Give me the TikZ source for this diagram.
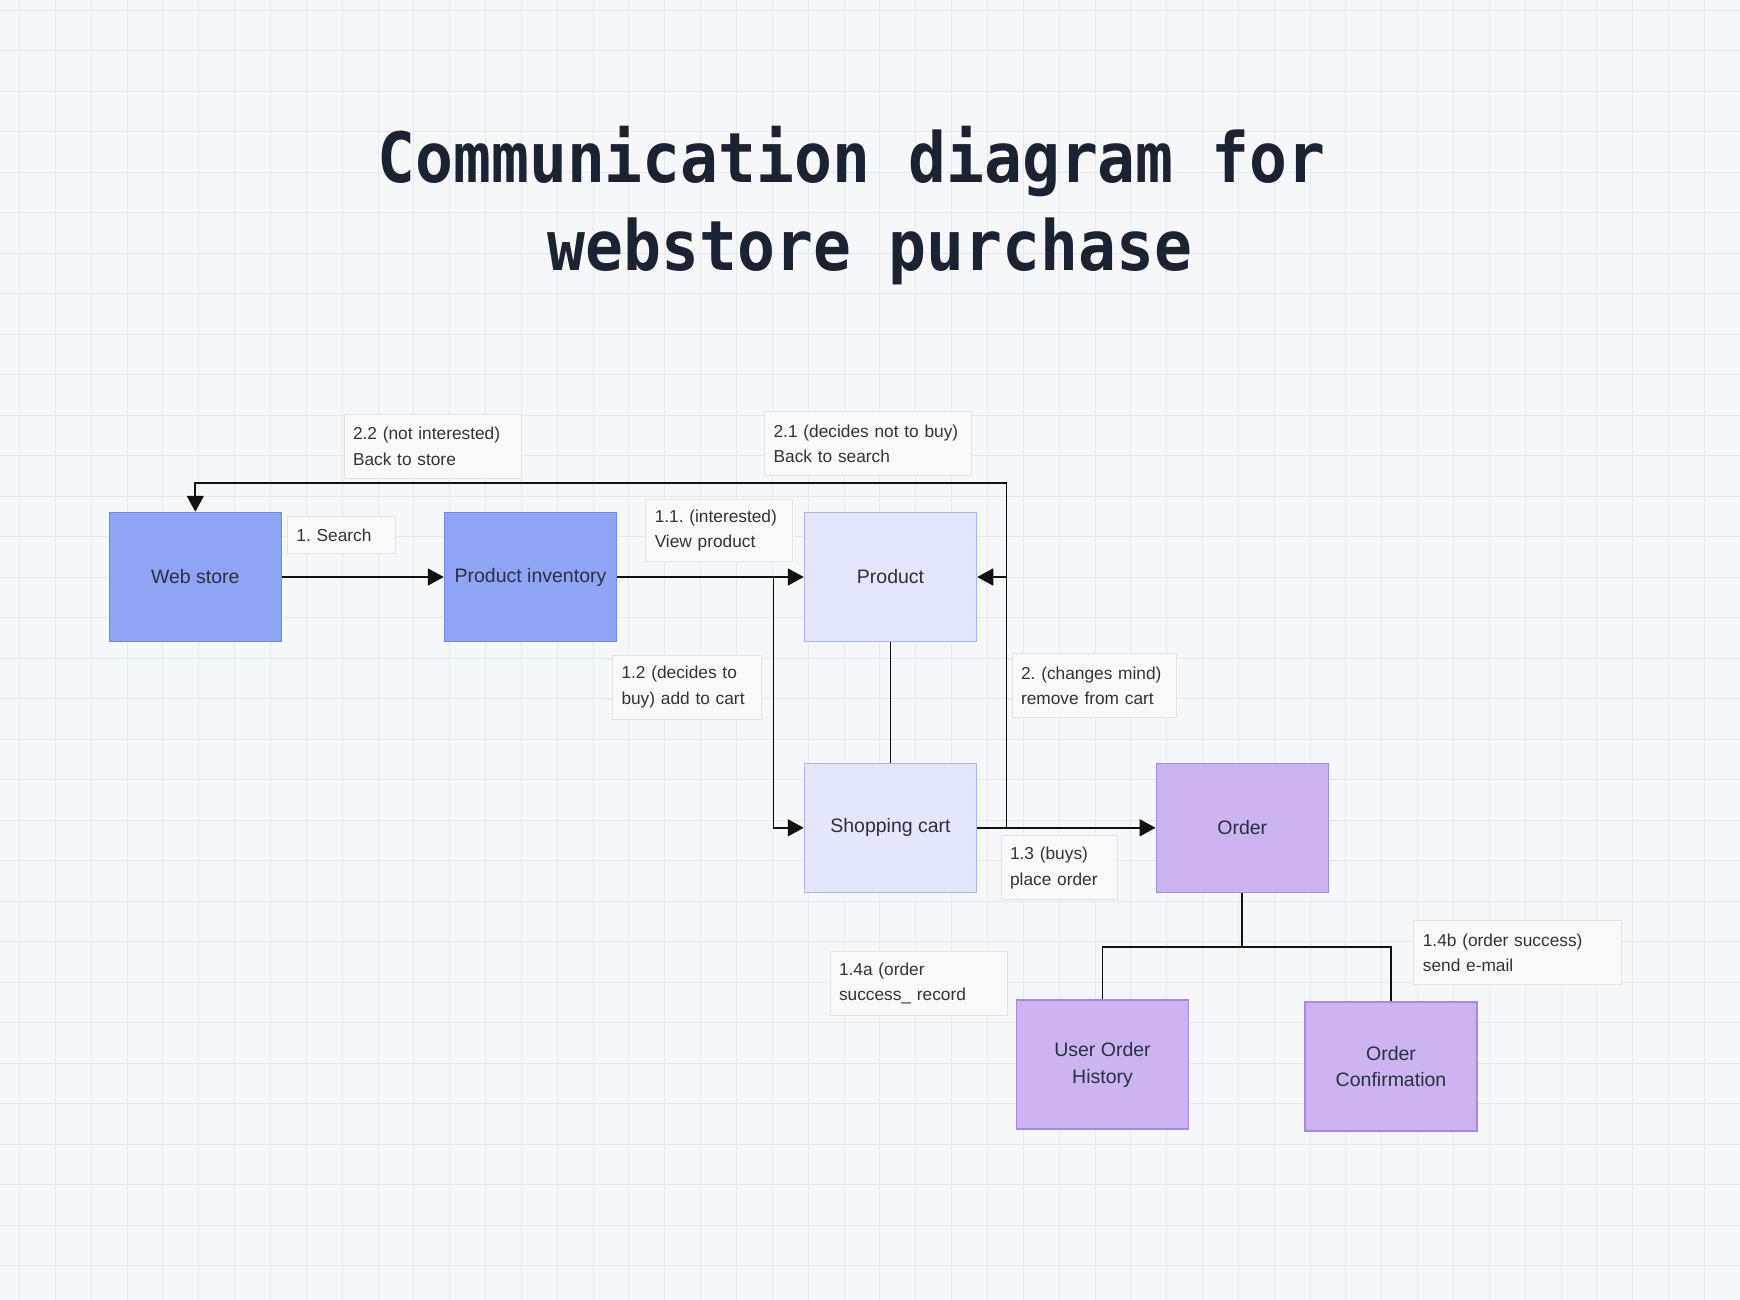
\documentclass[tikz,border=0pt]{standalone}
\usepackage{fontspec}
\setmainfont{Liberation Sans}
\newfontfamily\titlefont{DejaVu Sans Mono}
\usetikzlibrary{arrows.meta}
\frenchspacing
\definecolor{bg}{HTML}{F6F7F9}
\definecolor{gridc}{HTML}{E8E9ED}
\definecolor{titlec}{HTML}{1B2232}
\definecolor{nodetext}{HTML}{2B2F45}
\definecolor{labeltext}{HTML}{333333}
\definecolor{labelfill}{HTML}{F9F9FA}
\definecolor{labeldraw}{HTML}{E3E4E8}
\definecolor{bluefill}{HTML}{8FA4F4}
\definecolor{bluedraw}{HTML}{6F88E6}
\definecolor{lightfill}{HTML}{E4E6FB}
\definecolor{lightdraw}{HTML}{A9B5EE}
\definecolor{purplefill}{HTML}{CBB4EF}
\definecolor{purpledraw}{HTML}{A68AE0}
\definecolor{linec}{HTML}{111111}
\tikzset{
  objbox/.style={draw, line width=1.5pt, minimum width=172pt, minimum height=129pt,
    align=center, text=nodetext, font=\fontsize{19.5}{26.6}\selectfont, inner sep=0pt},
  blueobj/.style={objbox, fill=bluefill, draw=bluedraw},
  lightobj/.style={objbox, fill=lightfill, draw=lightdraw},
  purpleobj/.style={objbox, fill=purplefill, draw=purpledraw},
  msg/.style={draw=labeldraw, fill=labelfill, line width=0.8pt, align=left,
    text=labeltext, font=\fontsize{17.3}{25.5}\selectfont, inner xsep=9pt, inner ysep=0pt,
    minimum height=64pt},
  conn/.style={line width=1.8pt, draw=linec},
  arr/.style={conn, -{Triangle[length=16pt,width=17pt]}},
}
\begin{document}
\begin{tikzpicture}[x=1pt,y=-1pt]
\fill[bg] (0,0) rectangle (1740,1300);
\useasboundingbox (0,0) rectangle (1740,1300);
\foreach \i in {0,...,48} \draw[gridc, line width=1pt] ({round(19+35.85*\i)+0.5},0) -- ({round(19+35.85*\i)+0.5},1300);
\foreach \j in {0,...,31} \draw[gridc, line width=1pt] (0,{round(9.6+40.5*\j)+0.5}) -- (1740,{round(9.6+40.5*\j)+0.5});

% title
\node[anchor=base, text=titlec, font=\titlefont\bfseries\fontsize{63}{70}\selectfont, inner sep=0pt]
  (title1) at (851.5,183) {\scalebox{1}[1.1]{Communication diagram for}};
\node[anchor=base, text=titlec, font=\titlefont\bfseries\fontsize{63}{70}\selectfont, inner sep=0pt]
  (title2) at (870,270) {\scalebox{1}[1.1]{webstore purchase}};

% objects
\node[blueobj] (web) at (195.3,577) {Web store};
\node[blueobj] (inv) at (530.5,577) {Product inventory};
\node[lightobj] (prod) at (890.5,577) {Product};
\node[lightobj] (cart) at (890.5,827.8) {Shopping cart};
\node[purpleobj] (order) at (1242.3,827.8) {Order};
\node[purpleobj] (hist) at (1102.5,1064.7) {User Order\\History};
\node[purpleobj] (conf) at (1391,1066.4) {Order\\Confirmation};

% message labels
\node[msg, text width=89.6pt, minimum height=37.7pt] (l1) at (341.2,534.9) {1. Search};
\node[msg, text width=159.6pt] (l22) at (432.8,446.2) {2.2 (not interested)\\Back to store};
\node[msg, text width=188.4pt] (l21) at (867.8,443.8) {2.1 (decides not to buy)\\Back to search};
\node[msg, text width=128.5pt, minimum height=62pt] (l11) at (719,530.5) {1.1. (interested)\\View product};
\node[msg, text width=130.8pt] (l12) at (686.9,686.9) {1.2 (decides to\\buy) add to cart};
\node[msg, text width=146.3pt] (l2) at (1094.2,685.8) {2. (changes mind)\\remove from cart};
\node[msg, text width=98.5pt] (l13) at (1059.3,867.8) {1.3 (buys)\\place order};
\node[msg, text width=159.6pt] (l14a) at (918.8,983.3) {1.4a (order\\success\_ record};
\node[msg, text width=189.5pt] (l14b) at (1517.6,952.7) {1.4b (order success)\\send e-mail};

% junction points
\coordinate (b1) at (773.5,577);
\coordinate (b2) at (1006.5,827.8);
\coordinate (b3) at (1006.5,577);
\coordinate (top) at (1006.5,482.7);
\coordinate (b4) at (1242.3,946.6);

% connectors
\draw[arr] (web) -- (inv);
\draw[arr] (inv) -- (prod);
\draw[arr] (b1) |- (cart.west);
\draw[conn] (prod) -- (cart);
\draw[arr] (cart) -- (order);
\draw[arr] (b2) -- (top) -| (web.north);
\draw[arr] (b3) -- (prod.east);
\draw[conn] (order.south) -- (b4);
\draw[conn] (hist.north) |- (b4) -| (conf.north);
\end{tikzpicture}
\end{document}
